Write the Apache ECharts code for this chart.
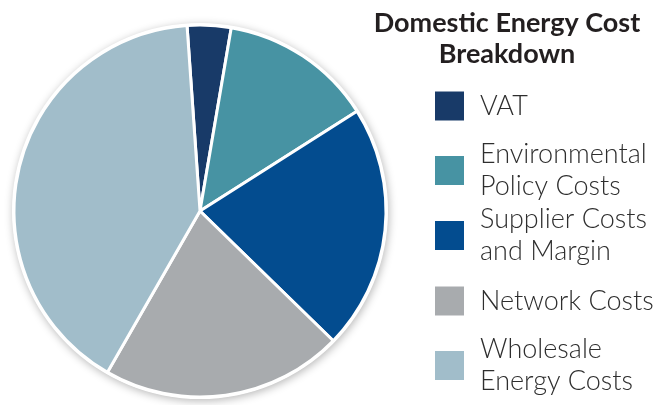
<!DOCTYPE html>
<html>
<head>
<meta charset="utf-8">
<script src="https://cdn.jsdelivr.net/npm/echarts@6/dist/echarts.min.js"></script>
<style>
html,body{margin:0;padding:0;background:#fff;}
#chart{width:667px;height:405px;}
</style>
</head>
<body>
<div id="chart"></div>
<script>
// Data (share of bill, %)
var categories = ['VAT', 'Environmental Policy Costs', 'Supplier Costs and Margin', 'Network Costs', 'Wholesale Energy Costs'];
var legendLabels = ['VAT', 'Environmental\nPolicy Costs', 'Supplier Costs\nand Margin', 'Network Costs', 'Wholesale\nEnergy Costs'];
var shares = [3.8, 13.3, 21.3, 21.0, 40.6];
var colors = ['#183a68', '#4793a3', '#034c8f', '#a8abae', '#a1bdca'];
var titleText = 'Domestic Energy Cost\nBreakdown';

var chart = echarts.init(document.getElementById('chart'), null, {renderer: 'canvas'});

var pieData = categories.map(function (c, i) {
  return {name: c, value: shares[i], itemStyle: {color: colors[i]}};
});

var legends = categories.map(function (c, i) {
  var lines = legendLabels[i].split('\n').length;
  var lh = 32;
  var h = Math.max(31, lines * lh);
  var center = 105.5 + 65 * i;
  return {
    data: [c],
    orient: 'vertical',
    left: 433,
    top: center - h / 2,
    padding: 0,
    icon: 'rect',
    itemWidth: 31,
    itemHeight: 31,
    selectedMode: false,
    formatter: function () { return legendLabels[i]; },
    textStyle: {
      fontFamily: 'Lato',
      fontWeight: 300,
      fontSize: 27,
      lineHeight: lh,
      color: '#2e2e2e',
      padding: [0, 0, 0, 10]
    }
  };
});

chart.setOption({
  animation: false,
  backgroundColor: '#ffffff',
  title: {
    text: titleText,
    left: 507,
    textAlign: 'center',
    top: 8,
    padding: 0,
    textStyle: {
      fontFamily: 'Lato',
      fontWeight: 'bold',
      fontSize: 27,
      lineHeight: 31,
      color: '#231f20'
    }
  },
  legend: legends,
  series: [
    {
      type: 'pie',
      silent: true,
      center: [200, 211],
      radius: 188,
      label: {show: false},
      labelLine: {show: false},
      emphasis: {disabled: true},
      tooltip: {show: false},
      legendHoverLink: false,
      itemStyle: {color: '#ffffff', shadowBlur: 8, shadowColor: 'rgba(0,0,0,0.28)', shadowOffsetX: 1, shadowOffsetY: 2},
      data: [{name: '_bg', value: 1}],
      z: 1
    },
    {
      type: 'pie',
      name: 'Domestic Energy Cost Breakdown',
      center: [200, 211],
      radius: 186,
      startAngle: 94,
      clockwise: true,
      avoidLabelOverlap: false,
      label: {show: false},
      labelLine: {show: false},
      emphasis: {scale: false},
      itemStyle: {borderColor: '#ffffff', borderWidth: 3},
      data: pieData,
      z: 2
    }
  ]
});
</script>
</body>
</html>
